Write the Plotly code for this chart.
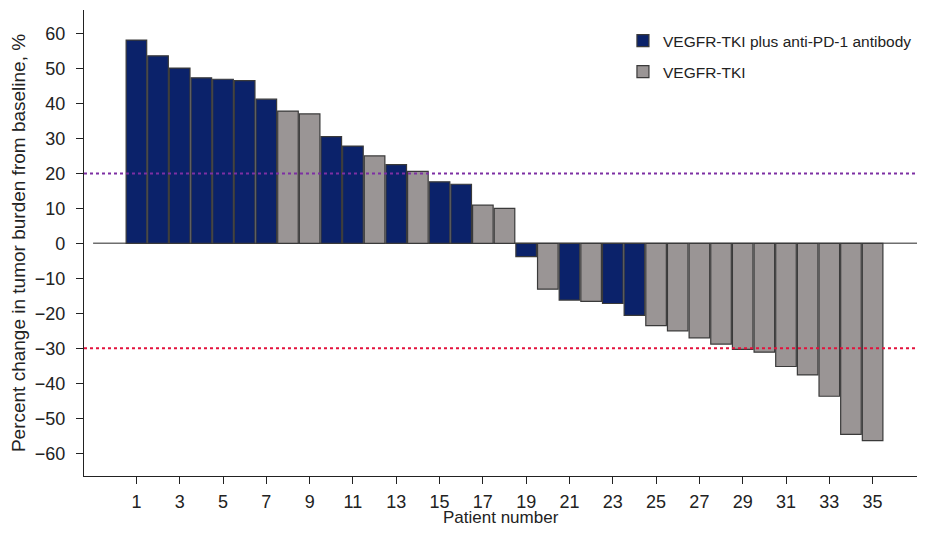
import plotly.graph_objects as go

patients = list(range(1, 36))
change_pct = [58.1, 53.6, 50.1, 47.3, 46.9, 46.5, 41.2, 37.8, 37.0, 30.5,
              27.8, 25.0, 22.5, 20.6, 17.6, 16.9, 10.9, 10.0, -3.8, -13.1,
              -16.2, -16.6, -17.2, -20.6, -23.5, -25.0, -27.0, -28.8, -30.3, -31.1,
              -35.2, -37.6, -43.7, -54.6, -56.4]
group = ["combo"] * 7 + ["tki"] * 2 + ["combo"] * 2 + ["tki", "combo", "tki", "combo", "combo", "tki", "tki",
         "combo", "tki", "combo", "tki", "combo", "combo"] + ["tki"] * 11

group_names = {"combo": "VEGFR-TKI plus anti-PD-1 antibody", "tki": "VEGFR-TKI"}
group_colors = {"combo": "#0b226a", "tki": "#9a9595"}

progression_line = 20
response_line = -30
x_ticks = list(range(1, 36, 2))
y_ticks = list(range(-60, 61, 10))
x_title = "Patient number"
y_title = "Percent change in tumor burden from baseline, %"

fig = go.Figure()
for g in ["combo", "tki"]:
    xs = [p for p, gg in zip(patients, group) if gg == g]
    ys = [v for v, gg in zip(change_pct, group) if gg == g]
    fig.add_trace(go.Bar(
        x=xs, y=ys, name=group_names[g], legendgroup=g,
        width=0.95,
        marker=dict(color=group_colors[g], line=dict(color="#3a3a3a", width=1.2)),
    ))

font_family = "Liberation Sans, Arial, Helvetica, sans-serif"
xmin, xmax = -1.42, 37.05

# the page body has an 8px margin on every side, so the figure is 16px smaller
fig.update_layout(
    width=909, height=519,
    margin=dict(l=76, r=0, t=2, b=51),
    plot_bgcolor="white", paper_bgcolor="white",
    font=dict(family=font_family, size=18, color="#222222"),
    barmode="overlay",
    showlegend=True,
    legend=dict(x=0.647, y=0.97, xanchor="left", yanchor="top",
                font=dict(size=15.5, color="#222222"), bgcolor="rgba(0,0,0,0)",
                traceorder="grouped", tracegroupgap=8, itemwidth=30),
    xaxis=dict(range=[xmin, xmax], tickmode="array", tickvals=x_ticks,
               ticktext=[str(t) for t in x_ticks], automargin=False,
               showline=True, linecolor="#222222", linewidth=1.2,
               ticks="outside", ticklen=7, tickwidth=1.2, tickcolor="#222222",
               ticklabelstandoff=2,
               showgrid=False, zeroline=False),
    yaxis=dict(range=[-66.5, 66.7], tickmode="array", tickvals=y_ticks,
               automargin=False,
               showline=True, linecolor="#222222", linewidth=1.2,
               ticks="outside", ticklen=7, tickwidth=1.2, tickcolor="#222222",
               ticklabelstandoff=7,
               showgrid=False, zeroline=False,
               title=dict(text=y_title, font=dict(size=19), standoff=13)),
    annotations=[
        dict(text=x_title, xref="paper", yref="paper", x=0.5, y=-0.089,
             xanchor="center", yanchor="middle", showarrow=False,
             font=dict(size=17, color="#222222")),
    ],
    shapes=[
        dict(type="line", xref="x", yref="y", x0=-1, x1=xmax, y0=0, y1=0,
             line=dict(color="#6e6e6e", width=1.5), layer="below"),
        dict(type="line", xref="paper", yref="y", x0=0, x1=1,
             y0=progression_line, y1=progression_line,
             line=dict(color="#7d2fa3", width=2, dash="dot"), layer="above"),
        dict(type="line", xref="paper", yref="y", x0=0, x1=1,
             y0=response_line, y1=response_line,
             line=dict(color="#e3123c", width=2, dash="dot"), layer="above"),
    ],
)

fig.write_html("out.html")
